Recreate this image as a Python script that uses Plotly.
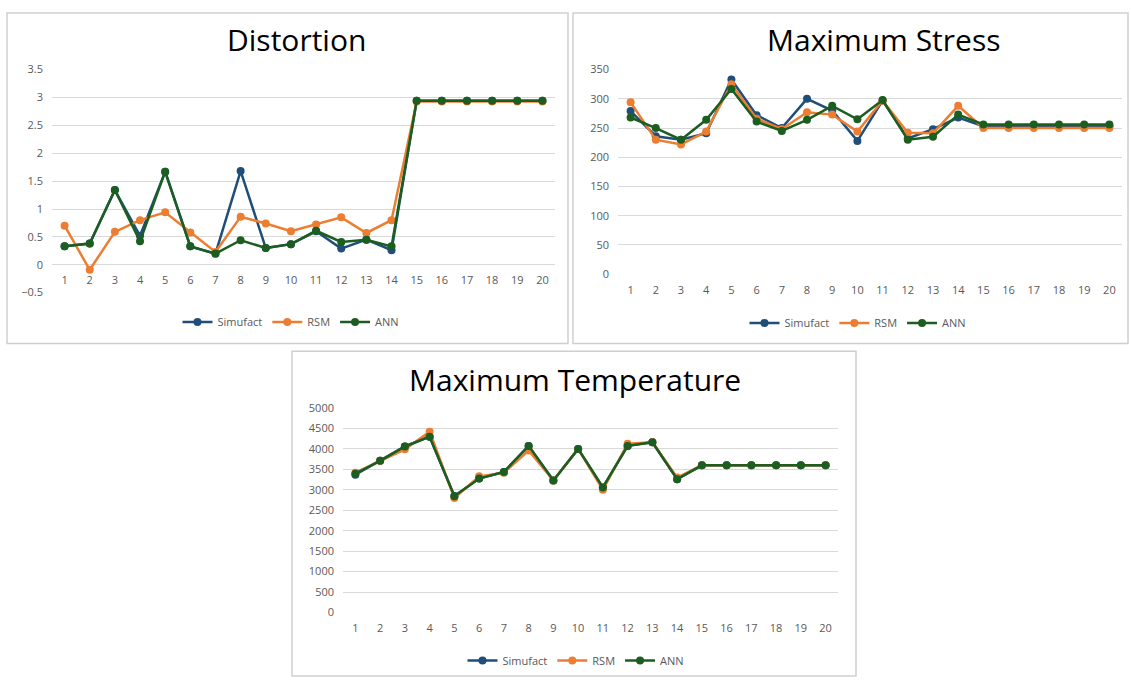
import plotly.graph_objects as go

W, H = 1131, 686

cases = [1, 2, 3, 4, 5, 6, 7, 8, 9, 10, 11, 12, 13, 14, 15, 16, 17, 18, 19, 20]
case_labels = ["1", "2", "3", "4", "5", "6", "7", "8", "9", "10",
               "11", "12", "13", "14", "15", "16", "17", "18", "19", "20"]
series_names = ["Simufact", "RSM", "ANN"]
series_colors = ["#1F4E79", "#ED7D31", "#1B5E20"]

# Distortion
dist_simufact = [0.33, 0.38, 1.34, 0.52, 1.67, 0.33, 0.20, 1.68, 0.30, 0.37,
                 0.60, 0.29, 0.45, 0.26, 2.94, 2.94, 2.94, 2.94, 2.94, 2.94]
dist_rsm = [0.70, -0.09, 0.59, 0.80, 0.94, 0.58, 0.23, 0.86, 0.74, 0.60,
            0.72, 0.85, 0.57, 0.80, 2.93, 2.93, 2.93, 2.93, 2.93, 2.93]
dist_ann = [0.33, 0.38, 1.34, 0.42, 1.67, 0.33, 0.20, 0.44, 0.30, 0.37,
            0.61, 0.41, 0.45, 0.33, 2.94, 2.94, 2.94, 2.94, 2.94, 2.94]

# Maximum Stress
stress_simufact = [279, 236, 230, 241, 333, 272, 250, 300, 280, 228,
                   297, 232, 248, 268, 253, 253, 253, 253, 253, 253]
stress_rsm = [294, 230, 222, 244, 325, 266, 248, 277, 273, 244,
              297, 242, 241, 288, 250, 250, 250, 250, 250, 250]
stress_ann = [268, 250, 230, 264, 317, 261, 245, 264, 288, 265,
              298, 230, 235, 273, 256, 256, 256, 256, 256, 256]

# Maximum Temperature
temp_simufact = [3370, 3710, 4060, 4300, 2850, 3280, 3435, 4075, 3230, 4000,
                 3060, 4075, 4165, 3260, 3600, 3600, 3600, 3600, 3600, 3600]
temp_rsm = [3420, 3710, 3990, 4420, 2800, 3330, 3420, 3960, 3230, 4000,
            3000, 4130, 4165, 3300, 3600, 3600, 3600, 3600, 3600, 3600]
temp_ann = [3396, 3710, 4060, 4300, 2845, 3276, 3436, 4075, 3228, 4000,
            3060, 4075, 4165, 3260, 3600, 3600, 3600, 3600, 3600, 3600]

titles = ["Distortion", "Maximum Stress", "Maximum Temperature"]


def fx(px):
    return px / W


def fy(py):
    return 1 - py / H


# panel geometry in pixels
panels = [
    dict(box=(7, 5, 568, 343), plot=(52, 63, 555, 291), yrange=(-0.5, 3.5), dtick=0.5,
         zero_py=262, title_xy=(296, 32), legend_xy=(291, 321),
         data=[dist_simufact, dist_rsm, dist_ann]),
    dict(box=(573, 5, 1128, 343), plot=(618, 63, 1122, 272), yrange=(0, 350), dtick=50,
         zero_py=272, title_xy=(884, 32), legend_xy=(858, 322),
         data=[stress_simufact, stress_rsm, stress_ann]),
    dict(box=(292, 351, 856, 683), plot=(343, 409, 838, 618), yrange=(0, 5000), dtick=500,
         zero_py=618, title_xy=(575, 380), legend_xy=(576, 667),
         data=[temp_simufact, temp_rsm, temp_ann]),
]

fig = go.Figure()
layout = dict(
    width=W, height=H, margin=dict(l=0, r=0, t=0, b=0),
    paper_bgcolor="white", plot_bgcolor="white",
    showlegend=True, shapes=[], annotations=[],
    font=dict(family="Open Sans, Liberation Sans, sans-serif", color="#595959"),
)

for i, p in enumerate(panels):
    n = "" if i == 0 else str(i + 1)
    xa, ya = "x" + n, "y" + n
    leg = "legend" + n
    x0, y0, x1, y1 = p["plot"]
    for name, color, vals in zip(series_names, series_colors, p["data"]):
        fig.add_trace(go.Scatter(
            x=cases, y=vals, name=name, mode="lines+markers",
            xaxis=xa, yaxis=ya, legend=leg,
            line=dict(color=color, width=2.5),
            marker=dict(color=color, size=8, line=dict(color=color, width=0)),
        ))
    layout["xaxis" + n] = dict(
        domain=[fx(x0), fx(x1)], range=[0.5, 20.5], anchor="free",
        position=fy(p["zero_py"]), tickmode="array", tickvals=cases,
        ticktext=case_labels, showgrid=False, zeroline=False, showline=False,
        ticks="", ticklabelstandoff=8,
        tickfont=dict(size=11, color="#595959"), fixedrange=True,
    )
    layout["yaxis" + n] = dict(
        domain=[fy(y1), fy(y0)], range=list(p["yrange"]), anchor=xa,
        dtick=p["dtick"], tick0=0, showgrid=True, gridcolor="#D9D9D9", gridwidth=1,
        zeroline=False, showline=False, ticks="", ticklabelstandoff=8,
        tickfont=dict(size=11, color="#595959"), fixedrange=True,
    )
    layout[leg] = dict(
        orientation="h", x=fx(p["legend_xy"][0]), y=fy(p["legend_xy"][1]),
        xanchor="center", yanchor="middle", bgcolor="rgba(0,0,0,0)",
        font=dict(size=11, color="#595959"), itemwidth=30, tracegroupgap=0,
    )
    bx0, by0, bx1, by1 = p["box"]
    layout["shapes"].append(dict(
        type="rect", xref="paper", yref="paper",
        x0=fx(bx0), x1=fx(bx1), y0=fy(by1), y1=fy(by0),
        line=dict(color="#CFCFCF", width=1.5), fillcolor="rgba(0,0,0,0)", layer="below",
    ))
    layout["annotations"].append(dict(
        text=titles[i], xref="paper", yref="paper",
        x=fx(p["title_xy"][0]), y=fy(p["title_xy"][1]),
        xanchor="center", yanchor="middle", showarrow=False,
        font=dict(size=30, color="#000000", family="Open Sans, sans-serif"),
    ))

fig.update_layout(**layout)
fig.write_html("out.html")
